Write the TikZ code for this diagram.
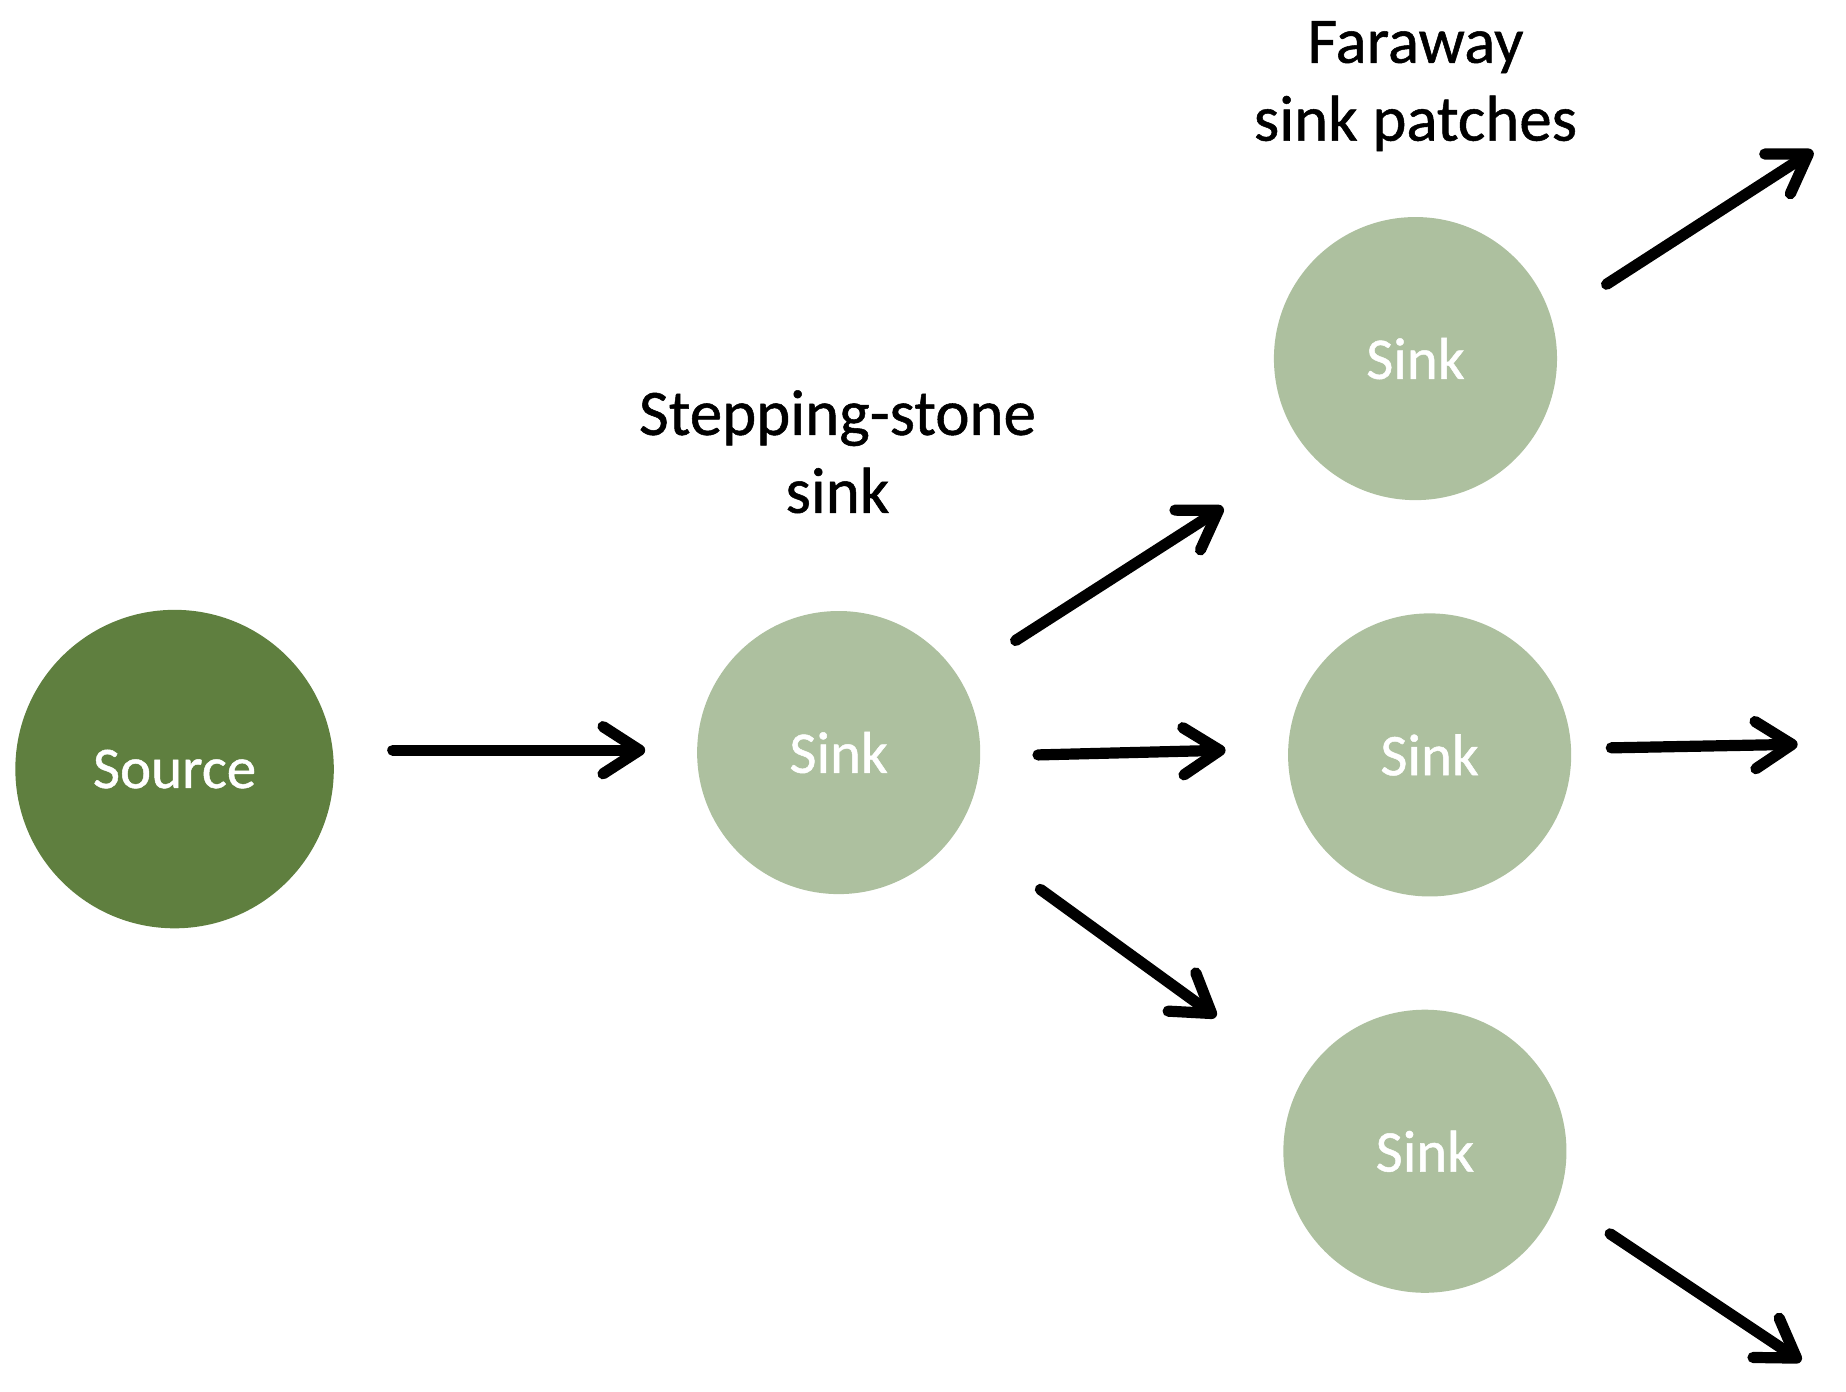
\documentclass[tikz,border=0pt]{standalone}
\usepackage{fontspec}
\setmainfont{Carlito}[BoldFont=Carlito,BoldFeatures={FakeBold=0.8}]
\usetikzlibrary{arrows.meta}
\definecolor{srcgreen}{HTML}{5F7F3F}
\definecolor{sinkgreen}{HTML}{ADC09F}
\tikzset{
  srcnode/.style={circle,fill=srcgreen,minimum size=270pt,inner sep=0pt,text=white,font=\fontsize{50}{60}\selectfont\bfseries},
  sinknode/.style={circle,fill=sinkgreen,minimum size=240pt,inner sep=0pt,text=white,font=\fontsize{50}{60}\selectfont\bfseries},
  lbl/.style={align=center,font=\fontsize{55}{66}\selectfont\bfseries,inner sep=0pt},
  flow/.style={line width=9.5pt,line cap=round,-{Straight Barb[length=31pt,width=40pt,line cap=round,line join=round]}}
}
\begin{document}
\begin{tikzpicture}[x=1pt,y=-1pt]
\useasboundingbox (0,0) rectangle (1565,1180);
\node[srcnode] (src) at (148,652) {Source};
\node[sinknode] (ss) at (711,638) {Sink};
\node[sinknode] (ft) at (1200,304) {Sink};
\node[sinknode] (fm) at (1212,640) {Sink};
\node[sinknode] (fb) at (1208,976) {Sink};
\node[lbl] (lss) at (710,383) {Stepping-stone\\sink};
\node[lbl] (lfa) at (1200,73) {Faraway\\sink patches};
\coordinate (a0s) at (333,636); \coordinate (a0e) at (547,636);
\coordinate (a1s) at (861,543); \coordinate (a1e) at (1037,430);
\coordinate (a2s) at (880,640); \coordinate (a2e) at (1039,636);
\coordinate (a3s) at (882,754); \coordinate (a3e) at (1031,862);
\coordinate (a4s) at (1362,241); \coordinate (a4e) at (1537,128);
\coordinate (a5s) at (1366,634); \coordinate (a5e) at (1524,631);
\coordinate (a6s) at (1365,1046); \coordinate (a6e) at (1527,1154);
\draw[flow] (a0s) -- (a0e);
\draw[flow] (a1s) -- (a1e);
\draw[flow] (a2s) -- (a2e);
\draw[flow] (a3s) -- (a3e);
\draw[flow] (a4s) -- (a4e);
\draw[flow] (a5s) -- (a5e);
\draw[flow] (a6s) -- (a6e);
\end{tikzpicture}
\end{document}
